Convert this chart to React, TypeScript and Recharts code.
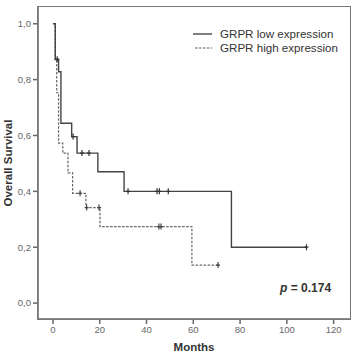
import { ComposedChart, Line, Scatter, XAxis, YAxis } from "recharts";

// Kaplan-Meier steps, months vs. survival
const lowTimes = [0, 1.0, 2.4, 3.4, 8.0, 10.3, 19.2, 30.4, 76.3, 108.4];
const lowSurvival = [1.0, 0.873, 0.828, 0.644, 0.596, 0.537, 0.47, 0.40, 0.20, 0.20];
const highTimes = [0, 0.9, 1.6, 2.4, 4.2, 6.4, 8.4, 14.1, 20.1, 59.4, 70.6];
const highSurvival = [1.0, 0.87, 0.753, 0.573, 0.537, 0.466, 0.393, 0.342, 0.274, 0.136, 0.136];

// censored cases
const lowCensorTimes = [1.8, 8.6, 12.4, 15.4, 32.1, 44.5, 45.5, 49.3, 108.4];
const lowCensorSurvival = [0.873, 0.596, 0.537, 0.537, 0.40, 0.40, 0.40, 0.40, 0.20];
const highCensorTimes = [11.6, 14.4, 19.7, 45.3, 46.2, 70.6];
const highCensorSurvival = [0.393, 0.342, 0.342, 0.274, 0.274, 0.136];

const xTicks = [0, 20, 40, 60, 80, 100, 120];
const yTicks = [0, 0.2, 0.4, 0.6, 0.8, 1.0];
const seriesNames = ["GRPR low expression", "GRPR high expression"];

const zip = (ts: number[], ss: number[]) => ts.map((t, i) => ({ t, s: ss[i] }));
const lowData = zip(lowTimes, lowSurvival);
const highData = zip(highTimes, highSurvival);
const lowCensors = zip(lowCensorTimes, lowCensorSurvival);
const highCensors = zip(highCensorTimes, highCensorSurvival);

const X_DOMAIN: [number, number] = [-6.4, 127];
const Y_DOMAIN: [number, number] = [-0.057, 1.06];
const font = "Arial, 'Liberation Sans', sans-serif";

const censorMark = (color: string) => (props: any) => {
  const { cx, cy } = props;
  return (
    <path
      d={`M${cx},${cy - 3}V${cy + 3}M${cx - 2},${cy}H${cx + 2}`}
      stroke={color}
      strokeWidth={1.2}
      fill="none"
    />
  );
};

export default function App() {
  return (
    <div style={{ position: "absolute", left: 0, top: 0, width: 354, height: 356, background: "#fff" }}>
      <ComposedChart width={354} height={356} margin={{ top: 7, right: 4, bottom: 0, left: 8 }}>
        <XAxis
          type="number"
          dataKey="t"
          domain={X_DOMAIN}
          ticks={xTicks}
          allowDataOverflow
          height={37}
          tickSize={5}
          stroke="#666"
          strokeWidth={1.5}
          tick={{ fontSize: 9.5, fill: "#666", fontFamily: font }}
        />
        <YAxis
          type="number"
          dataKey="s"
          domain={Y_DOMAIN}
          ticks={yTicks}
          allowDataOverflow
          width={30}
          tickSize={5}
          stroke="#666"
          strokeWidth={1.5}
          tickFormatter={(v: number) => v.toFixed(1).replace(".", ",")}
          tick={{ fontSize: 9.5, fill: "#666", fontFamily: font }}
        />
        <Line
          data={highData}
          dataKey="s"
          type="stepAfter"
          stroke="#666"
          strokeWidth={1.2}
          strokeDasharray="2.5 1.5"
          dot={false}
          isAnimationActive={false}
        />
        <Line
          data={lowData}
          dataKey="s"
          type="stepAfter"
          stroke="#444"
          strokeWidth={1.4}
          dot={false}
          isAnimationActive={false}
        />
        <Scatter data={highCensors} dataKey="s" shape={censorMark("#444")} isAnimationActive={false} />
        <Scatter data={lowCensors} dataKey="s" shape={censorMark("#333")} isAnimationActive={false} />
      </ComposedChart>
      {/* plot frame */}
      <div
        style={{
          position: "absolute",
          left: 37,
          top: 6,
          width: 312,
          height: 312,
          border: "1.5px solid #777",
          pointerEvents: "none",
        }}
      />
      <svg style={{ position: "absolute", left: 190, top: 27 }} width={160} height={30}>
        <line x1={3} x2={22} y1={7} y2={7} stroke="#3a3a3a" strokeWidth={1.3} />
        <line x1={5} x2={22} y1={21} y2={21} stroke="#555" strokeWidth={1.2} strokeDasharray="2.5 1.5" />
        <text x={30} y={11} fontSize={11.6} fill="#333" fontFamily={font}>
          {seriesNames[0]}
        </text>
        <text x={30} y={25} fontSize={11.6} fill="#333" fontFamily={font}>
          {seriesNames[1]}
        </text>
      </svg>
      <div
        style={{
          position: "absolute",
          left: 8,
          top: 163,
          transform: "translate(-50%, -50%) rotate(-90deg)",
          fontFamily: font,
          fontWeight: "bold",
          fontSize: 11.5,
          color: "#333",
          whiteSpace: "nowrap",
        }}
      >
        Overall Survival
      </div>
      <div
        style={{
          position: "absolute",
          left: 194,
          top: 347,
          transform: "translate(-50%, -50%)",
          fontFamily: font,
          fontWeight: "bold",
          fontSize: 11.5,
          color: "#333",
          whiteSpace: "nowrap",
        }}
      >
        Months
      </div>
      <div
        style={{
          position: "absolute",
          left: 280,
          top: 281,
          fontFamily: font,
          fontWeight: "bold",
          fontSize: 12,
          color: "#333",
          whiteSpace: "nowrap",
        }}
      >
        <i>p</i> = 0.174
      </div>
    </div>
  );
}
